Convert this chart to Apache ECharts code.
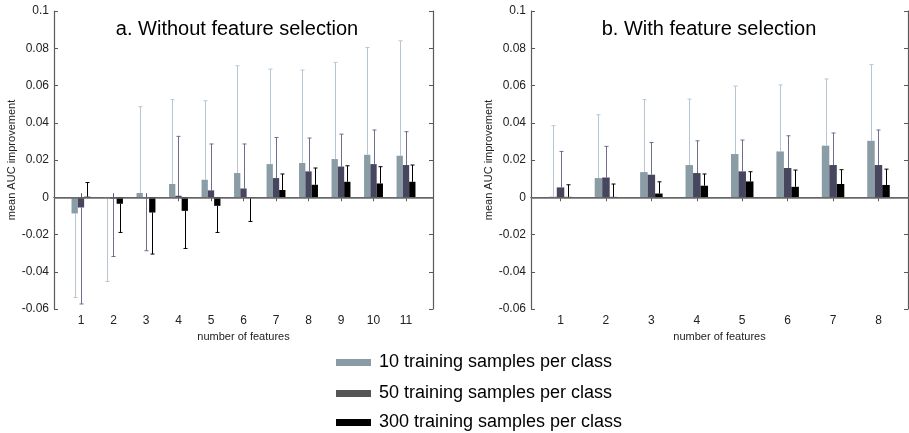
<!DOCTYPE html>
<html>
<head>
<meta charset="utf-8">
<script src="https://cdn.jsdelivr.net/npm/echarts@6/dist/echarts.min.js"></script>
<style>
  html, body { margin: 0; padding: 0; background: #fff; }
  #chart { width: 909px; height: 433px; }
</style>
</head>
<body>
<div id="chart"></div>
<script>
// Mean AUC improvement vs. number of features, for three training-set sizes.
// Each series: bar heights (mean) and the value reached by the one-sided error bar.

const seriesNames = [
  '10 training samples per class',
  '50 training samples per class',
  '300 training samples per class'
];

// a. Without feature selection (1..11 features)
const featuresA = [1, 2, 3, 4, 5, 6, 7, 8, 9, 10, 11];
const meanA10  = [-0.0087, -0.0003, 0.0023, 0.0071, 0.0094, 0.0130, 0.0178, 0.0184, 0.0205, 0.0228, 0.0223];
const errToA10 = [-0.0538, -0.0452, 0.0486, 0.0524, 0.0518, 0.0706, 0.0688, 0.0683, 0.0724, 0.0804, 0.0840];
const meanA50  = [-0.0055, -0.0008, -0.0005, 0.0008, 0.0037, 0.0047, 0.0103, 0.0139, 0.0165, 0.0178, 0.0173];
const errToA50 = [-0.0573, -0.0318, -0.0287, 0.0327, 0.0286, 0.0286, 0.0321, 0.0318, 0.0339, 0.0361, 0.0352];
const meanA300  = [0.0003, -0.0035, -0.0082, -0.0073, -0.0046, -0.0003, 0.0039, 0.0067, 0.0083, 0.0074, 0.0083];
const errToA300 = [0.0079, -0.0189, -0.0305, -0.0275, -0.0189, -0.0130, 0.0125, 0.0157, 0.0169, 0.0164, 0.0173];

// b. With feature selection (1..8 features)
const featuresB = [1, 2, 3, 4, 5, 6, 7, 8];
const meanB10  = [0.0003, 0.0103, 0.0135, 0.0173, 0.0232, 0.0246, 0.0277, 0.0303];
const errToB10 = [0.0384, 0.0443, 0.0524, 0.0527, 0.0597, 0.0603, 0.0635, 0.0712];
const meanB50  = [0.0053, 0.0106, 0.0121, 0.0130, 0.0139, 0.0157, 0.0173, 0.0173];
const errToB50 = [0.0246, 0.0273, 0.0294, 0.0303, 0.0307, 0.0330, 0.0345, 0.0361];
const meanB300  = [0.0002, 0.0002, 0.0020, 0.0062, 0.0085, 0.0056, 0.0071, 0.0066];
const errToB300 = [0.0067, 0.0071, 0.0083, 0.0125, 0.0137, 0.0146, 0.0148, 0.0151];

const barColors = ['#8a9ca6', '#46465f', '#000000'];
const errColors = ['#b7c6d0', '#6f6c8c', '#000000'];
const legendColors = ['#8a9ba6', '#555555', '#000000'];

const frameColor = '#5a5a5a';
const fontFamily = 'Liberation Sans, Arial, sans-serif';
const labelFont = { fontFamily, color: '#222', fontSize: 12 };

function xAxes(gridIndex, min, max, ticks) {
  return [
    {
      type: 'value', gridIndex, position: 'bottom', min, max,
      name: 'number of features', nameLocation: 'middle', nameGap: 20,
      nameTextStyle: { fontFamily, fontSize: 11, color: '#222' },
      axisLine: { show: true, lineStyle: { color: frameColor, width: 1.2 } },
      axisTick: { show: true, inside: true, length: 4, customValues: ticks, lineStyle: { color: frameColor } },
      axisLabel: Object.assign({ show: true, margin: 6, customValues: ticks }, labelFont),
      splitLine: { show: false }
    },
    {
      type: 'value', gridIndex, position: 'top', min, max,
      axisLine: { show: true, lineStyle: { color: frameColor, width: 1.2 } },
      axisTick: { show: true, inside: true, length: 4, customValues: ticks, lineStyle: { color: frameColor } },
      axisLabel: { show: false },
      splitLine: { show: false }
    }
  ];
}

function yAxes(gridIndex, nameGap) {
  return [
    {
      type: 'value', gridIndex, position: 'left', min: -0.06, max: 0.1, interval: 0.02,
      name: 'mean AUC improvement', nameLocation: 'middle', nameGap,
      nameTextStyle: { fontFamily, fontSize: 11, color: '#222' },
      axisLine: { show: true, lineStyle: { color: frameColor, width: 1.2 } },
      axisTick: { show: true, inside: true, length: 4, lineStyle: { color: frameColor } },
      axisLabel: Object.assign({
        margin: 5,
        formatter: v => String(parseFloat(v.toFixed(2)))
      }, labelFont),
      splitLine: { show: false }
    },
    {
      type: 'value', gridIndex, position: 'right', min: -0.06, max: 0.1, interval: 0.02,
      axisLine: { show: true, lineStyle: { color: frameColor, width: 1.2 } },
      axisTick: { show: true, inside: true, length: 4, lineStyle: { color: frameColor } },
      axisLabel: { show: false },
      splitLine: { show: false }
    }
  ];
}

function pairs(xs, ys) { return xs.map((x, i) => [x, ys[i]]); }
function triples(xs, ys, zs) { return xs.map((x, i) => [x, ys[i], zs[i]]); }

// Bar series for one panel; the zero baseline is attached to the first one.
function barSeries(xAxisIndex, yAxisIndex, features, means, barWidth) {
  return means.map((m, k) => {
    const s = {
      type: 'bar', name: seriesNames[k], xAxisIndex, yAxisIndex,
      data: pairs(features, m), barWidth, barGap: '0%',
      itemStyle: { color: barColors[k] },
      emphasis: { disabled: true },
      z: 2
    };
    if (k === 0) {
      s.markLine = {
        silent: true, symbol: 'none', label: { show: false },
        lineStyle: { color: '#6b6b6b', width: 1.5, type: 'solid' },
        data: [{ yAxis: 0 }], z: 5
      };
    }
    return s;
  });
}

// One-sided error bars, drawn from each bar top to the error value, centred on the bar.
function errorSeries(xAxisIndex, yAxisIndex, features, means, errTo, barWidth) {
  return means.map((m, k) => ({
    type: 'custom', xAxisIndex, yAxisIndex,
    data: triples(features, m, errTo[k]),
    encode: { x: 0, y: [1, 2] },
    z: 4, silent: true,
    renderItem: (params, api) => {
      const off = (k - 1) * barWidth;
      const a = api.coord([api.value(0), api.value(1)]);
      const b = api.coord([api.value(0), api.value(2)]);
      const x = Math.round(a[0] + off) + 0.5;
      const cap = 2;
      const style = { stroke: errColors[k], lineWidth: 1 };
      return {
        type: 'group',
        children: [
          { type: 'line', shape: { x1: x, y1: a[1], x2: x, y2: b[1] }, style },
          { type: 'line', shape: { x1: x - cap, y1: b[1], x2: x + cap, y2: b[1] }, style }
        ]
      };
    }
  }));
}

// One legend block per training-set size, stacked under the panels.
const legendTops = [347, 378, 407];
function legends() {
  return seriesNames.map((n, k) => ({
    orient: 'horizontal', left: 331, top: legendTops[k],
    itemWidth: 35, itemHeight: 7,
    icon: 'rect', selectedMode: false,
    textStyle: { fontFamily, fontSize: 18, color: '#000', padding: [0, 0, 0, 3], lineHeight: 21 },
    data: [{ name: n, itemStyle: { color: legendColors[k] } }]
  }));
}

const bwA = 6.3, bwB = 7.5;

const option = {
  backgroundColor: '#ffffff',
  animation: false,
  grid: [
    { left: 54, top: 11, width: 379, height: 298 },
    { left: 531, top: 11, width: 377, height: 298 }
  ],
  xAxis: [].concat(
    xAxes(0, 0.17, 11.83, featuresA),
    xAxes(1, 0.35, 8.65, featuresB)
  ),
  yAxis: [].concat(yAxes(0, 36), yAxes(1, 36)),
  legend: legends(),
  graphic: [
    {
      type: 'text', x: 237, y: 29,
      style: { text: 'a. Without feature selection', fill: '#000', font: '20px "Liberation Sans", Arial, sans-serif', align: 'center', verticalAlign: 'middle' }
    },
    {
      type: 'text', x: 709, y: 29,
      style: { text: 'b. With feature selection', fill: '#000', font: '20px "Liberation Sans", Arial, sans-serif', align: 'center', verticalAlign: 'middle' }
    }
  ],
  series: [].concat(
    barSeries(0, 0, featuresA, [meanA10, meanA50, meanA300], bwA),
    errorSeries(0, 0, featuresA, [meanA10, meanA50, meanA300], [errToA10, errToA50, errToA300], bwA),
    barSeries(2, 2, featuresB, [meanB10, meanB50, meanB300], bwB),
    errorSeries(2, 2, featuresB, [meanB10, meanB50, meanB300], [errToB10, errToB50, errToB300], bwB)
  )
};

const chart = echarts.init(document.getElementById('chart'), null, { renderer: 'canvas' });
chart.setOption(option);
</script>
</body>
</html>
